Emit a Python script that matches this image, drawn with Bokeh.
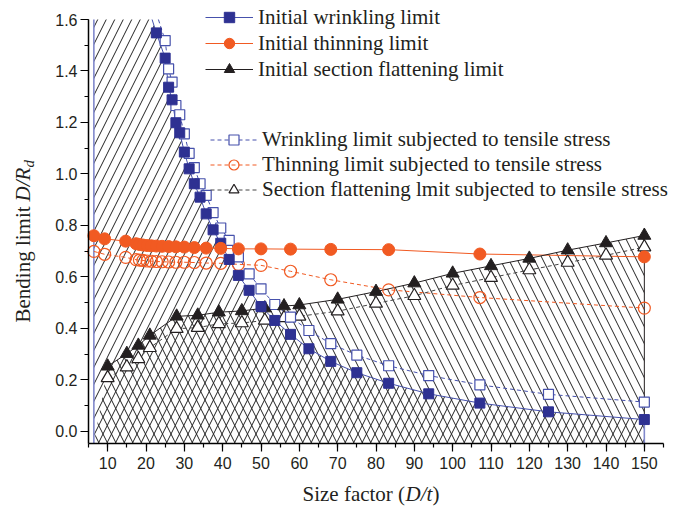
import math
from bokeh.plotting import figure
from bokeh.models import (Range1d, SingleIntervalTicker, Legend, LegendItem, Label,
                          NumeralTickFormatter)
from bokeh.embed import file_html
from bokeh.resources import INLINE

# ---------------- data ----------------
# Initial wrinkling limit (filled squares); first point lies above the plotted range
wr_x = [20.3, 22.7, 25.0, 25.9, 26.8, 27.8, 28.8, 30.0, 31.25, 32.6, 34.1, 35.7, 37.5, 39.5,
        41.7, 44.1, 46.9, 50.0, 53.6, 57.7, 62.5, 68.2, 75.0, 83.3, 93.75, 107.1, 125.0, 150.0]
wr_y = [1.66, 1.548, 1.45, 1.337, 1.288, 1.199, 1.160, 1.085, 1.02, 0.962, 0.91, 0.845, 0.783,
        0.731, 0.668, 0.606, 0.548, 0.485, 0.431, 0.377, 0.321, 0.272, 0.228, 0.187, 0.146,
        0.110, 0.076, 0.046]

# Wrinkling limit subjected to tensile stress (open squares)
wt_x = [22.7, 25.0, 25.9, 26.8, 27.8, 28.8, 30.0, 31.25, 32.6, 34.1, 35.7, 37.5, 39.5,
        41.7, 44.1, 46.9, 50.0, 53.6, 57.7, 62.5, 68.2, 75.0, 83.3, 93.75, 107.1, 125.0, 150.0]
wt_y = [1.625, 1.518, 1.408, 1.357, 1.266, 1.230, 1.156, 1.08, 1.025, 0.962, 0.917, 0.85, 0.79,
        0.742, 0.678, 0.612, 0.554, 0.493, 0.444, 0.392, 0.341, 0.296, 0.255, 0.217, 0.181,
        0.144, 0.114]

# Initial thinning limit (filled circles)
th_x = [6.4, 9.2, 14.7, 17.4, 18.3, 19.2, 20.3, 21.4, 22.7, 24.2, 25.9, 27.8, 30.0, 32.6,
        35.7, 39.5, 44.1, 50.0, 57.7, 68.2, 83.3, 107.1, 150.0]
th_y = [0.760, 0.748, 0.739, 0.729, 0.726, 0.724, 0.722, 0.721, 0.720, 0.719, 0.718, 0.717,
        0.716, 0.714, 0.712, 0.711, 0.709, 0.709, 0.708, 0.707, 0.706, 0.689, 0.678]

# Thinning limit subjected to tensile stress (open circles)
tt_x = th_x
tt_y = [0.699, 0.688, 0.676, 0.667, 0.665, 0.664, 0.662, 0.661, 0.660, 0.659, 0.658, 0.657,
        0.657, 0.656, 0.654, 0.653, 0.649, 0.645, 0.622, 0.589, 0.550, 0.520, 0.479]

# Initial section flattening limit (filled triangles)
fl_x = [10, 15, 18, 21, 28, 33.5, 39, 45, 51, 56, 60, 70, 80, 90, 100, 110, 120, 130, 140, 150]
fl_y = [0.253, 0.302, 0.334, 0.373, 0.447, 0.451, 0.463, 0.468, 0.479, 0.487, 0.491, 0.513,
        0.543, 0.576, 0.614, 0.643, 0.672, 0.704, 0.732, 0.761]

# Section flattening limit subjected to tensile stress (open triangles)
ft_x = fl_x
ft_y = [0.208, 0.250, 0.282, 0.325, 0.399, 0.403, 0.418, 0.421, 0.431, 0.441, 0.447, 0.467,
        0.497, 0.527, 0.567, 0.597, 0.627, 0.656, 0.684, 0.716]

fill_x_start = 6.4          # left edge of the hatched regions
x_lo, x_hi = 5, 155         # axis extents
y_lo, y_hi = -0.047, 1.6

legend1_labels = ["Initial wrinkling limit", "Initial thinning limit",
                  "Initial section flattening limit"]
legend2_labels = ["Wrinkling limit subjected to tensile stress",
                  "Thinning limit subjected to tensile stress",
                  "Section flattening lmit subjected to tensile stress"]

# ---------------- layout / styles ----------------
W, H = 691, 511
AX_L, AX_R, AX_T, AX_B = 88, 663, 19, 443      # pixel position of the axes box
BLUE = "#2E3192"
BLUE_L = "#4651AC"
ORANGE = "#F15A22"
BLACK = "#231F20"
SERIF = "Liberation Serif"
SANS = "Liberation Sans"

# the frame fills the whole canvas; axes are pinned at the axes-box edges
kx = (x_hi - x_lo) / (AX_R - AX_L)
ky = (y_hi - y_lo) / (AX_B - AX_T)
xr = Range1d(x_lo - AX_L * kx, x_hi + (W - AX_R) * kx)
yr = Range1d(y_lo - (H - AX_B) * ky, y_hi + AX_T * ky)

p = figure(width=W, height=H, output_backend="svg", toolbar_location=None,
           x_range=xr, y_range=yr, min_border=0,
           min_border_left=0, min_border_right=0, min_border_top=0, min_border_bottom=0)
p.outline_line_color = None
p.xgrid.visible = False
p.ygrid.visible = False
p.background_fill_color = "white"
p.border_fill_color = "white"


def clip_top(xs, ys, top):
    """Cut a polyline where it leaves the top of the axes box."""
    ox, oy = [], []
    for i in range(len(xs)):
        if ys[i] <= top:
            if i > 0 and ys[i - 1] > top:
                t = (ys[i - 1] - top) / (ys[i - 1] - ys[i])
                ox.append(xs[i - 1] + t * (xs[i] - xs[i - 1]))
                oy.append(top)
            ox.append(xs[i])
            oy.append(ys[i])
    return ox, oy


def inside(xs, ys, top):
    keep = [i for i in range(len(xs)) if ys[i] <= top]
    return [xs[i] for i in keep], [ys[i] for i in keep]


wr_cx, wr_cy = clip_top(wr_x, wr_y, y_hi)
wt_cx, wt_cy = clip_top(wt_x, wt_y, y_hi)
wr_mx, wr_my = inside(wr_x, wr_y, y_hi)
wt_mx, wt_my = inside(wt_x, wt_y, y_hi)

# hatched regions
HS = 17
p.patch([fill_x_start, fill_x_start] + wr_cx + [wr_cx[-1]],
        [y_lo, y_hi] + wr_cy + [y_lo],
        fill_color=None, line_color=None,
        hatch_pattern="/", hatch_scale=HS, hatch_color="#222222", hatch_weight=1)
p.patch([fill_x_start] + fl_x + [fl_x[-1]], [y_lo] + fl_y + [y_lo],
        fill_color=None, line_color=None,
        hatch_pattern="\\", hatch_scale=HS, hatch_color="#222222", hatch_weight=1)
# edges of the hatched regions
p.segment(x0=[fill_x_start], y0=[y_lo], x1=[fill_x_start], y1=[y_hi],
          line_color="#8088CC", line_width=1.6)
p.segment(x0=[fl_x[-1]], y0=[fl_y[-1]], x1=[fl_x[-1]], y1=[wr_y[-1]],
          line_color=BLACK, line_width=1)
p.segment(x0=[wr_x[-1]], y0=[wr_y[-1]], x1=[wr_x[-1]], y1=[y_lo],
          line_color="#8088CC", line_width=1.6)

# lines
DASH = "4 3"
l_wt = p.line(wt_cx, wt_cy, line_color=BLUE_L, line_width=1, line_dash=DASH)
l_tt = p.line(tt_x, tt_y, line_color=ORANGE, line_width=1, line_dash=DASH)
l_ft = p.line(ft_x, ft_y, line_color="#444444", line_width=1, line_dash=DASH)
l_wr = p.line(wr_cx, wr_cy, line_color=BLUE_L, line_width=1)
l_th = p.line(th_x, th_y, line_color=ORANGE, line_width=1)
l_fl = p.line(fl_x, fl_y, line_color=BLACK, line_width=1)

# markers
s_tt = p.scatter(tt_x, tt_y, marker="circle", size=12, fill_color=None, line_color=ORANGE, line_width=1.2)
s_ft = p.scatter(ft_x, ft_y, marker="triangle", size=13, fill_color="white", line_color=BLACK, line_width=1.2)
s_wt = p.scatter(wt_mx, wt_my, marker="square", size=10, fill_color="white", line_color=BLUE_L, line_width=1.2)
s_fl = p.scatter(fl_x, fl_y, marker="triangle", size=13, fill_color=BLACK, line_color=BLACK)
s_wr = p.scatter(wr_mx, wr_my, marker="square", size=10, fill_color=BLUE, line_color=BLUE)
s_th = p.scatter(th_x, th_y, marker="circle", size=12, fill_color=ORANGE, line_color=ORANGE)

# axes (pinned inside the frame)
for ax in (p.xaxis[0], p.yaxis[0]):
    ax.axis_line_width = 1.5
    ax.axis_line_color = "black"
    ax.major_tick_line_color = "black"
    ax.minor_tick_line_color = "black"
    ax.major_tick_line_width = 1.2
    ax.minor_tick_line_width = 1.2
    ax.major_tick_in = 0
    ax.major_tick_out = 8
    ax.minor_tick_in = 0
    ax.minor_tick_out = 4
    ax.major_label_text_font = SANS
    ax.major_label_text_font_size = "16px"
    ax.major_label_text_color = BLACK
p.xaxis.fixed_location = y_lo
p.yaxis.fixed_location = x_lo
p.xaxis.bounds = (x_lo, x_hi)
p.yaxis.bounds = (y_lo, y_hi)
p.xaxis.major_label_standoff = 5
p.yaxis.major_label_standoff = 3
p.xaxis.ticker = SingleIntervalTicker(interval=10, num_minor_ticks=2)
p.yaxis.ticker = SingleIntervalTicker(interval=0.2, num_minor_ticks=2)
p.yaxis.formatter = NumeralTickFormatter(format="0.0")


# axis titles (mixed styles); screen units measured from the canvas bottom-left
def lab(text, x, y, style="normal", size="21px", angle=0.0):
    p.add_layout(Label(x=x, y=H - y, x_units="screen", y_units="screen", text=text,
                       text_font=SERIF, text_font_size=size, text_font_style=style,
                       text_color=BLACK, angle=angle, text_align="left",
                       text_baseline="middle"))


lab("Size factor (", 302, 493)
lab("D/t", 405, 493, style="italic")
lab(")", 432, 493)

lab("Bending limit ", 22, 322, angle=math.pi / 2)
lab("D/R", 22, 201, style="italic", angle=math.pi / 2)
lab("d", 28, 167, style="italic", size="15px", angle=math.pi / 2)


# legends
def make_legend(labels, rends, left, bottom, gw, gh):
    items = [LegendItem(label=t, renderers=r) for t, r in zip(labels, rends)]
    lg = Legend(items=items, location=(left, H - bottom), orientation="vertical",
                background_fill_alpha=0, border_line_color=None, padding=0, margin=0,
                spacing=0, glyph_width=gw, glyph_height=gh, label_height=gh,
                label_standoff=5, label_text_font=SERIF, label_text_font_size="21px",
                label_text_color=BLACK)
    p.add_layout(lg)


make_legend(legend1_labels, [[l_wr, s_wr], [l_th, s_th], [l_fl, s_fl]], 205, 82, 48, 26)
make_legend(legend2_labels, [[l_wt, s_wt], [l_tt, s_tt], [l_ft, s_ft]], 210, 202, 47, 25)

open("out.html", "w").write(file_html(p, INLINE))
